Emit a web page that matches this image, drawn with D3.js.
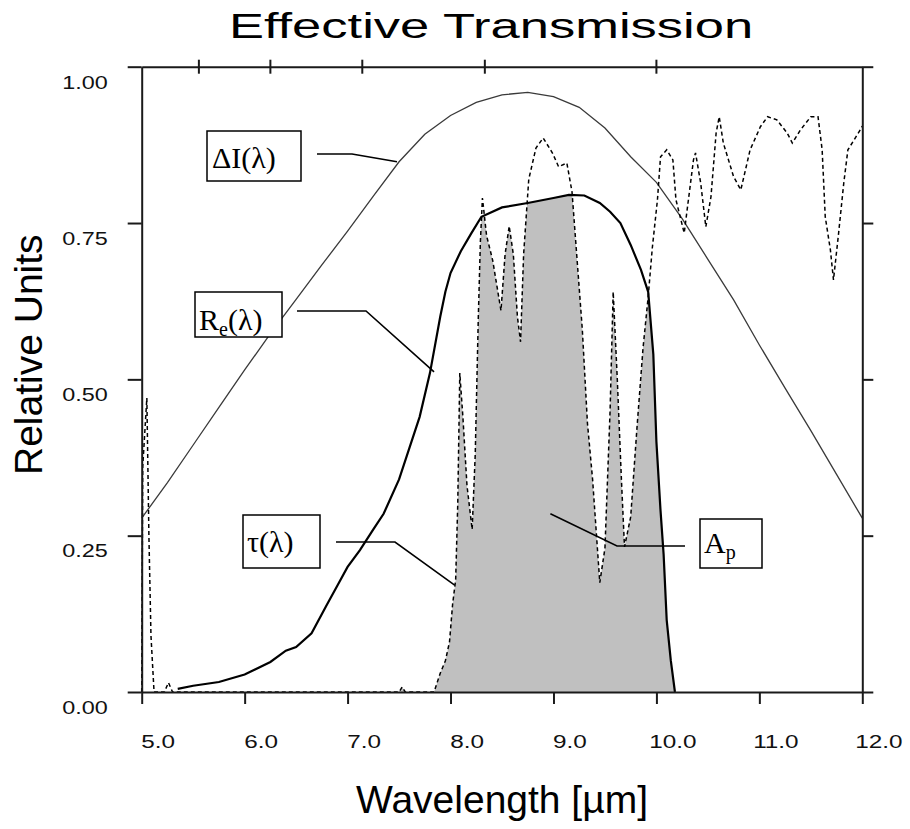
<!DOCTYPE html>
<html>
<head>
<meta charset="utf-8">
<script src="https://cdn.jsdelivr.net/npm/d3@7"></script>
<style>
  html, body { margin: 0; padding: 0; background: #fff; }
  svg { display: block; }
</style>
</head>
<body>
<svg id="chart" width="910" height="829"></svg>
<script>
// Wavelength axis ticks (µm) and relative-unit ticks
const wavelengthTicks = [5, 6, 7, 8, 9, 10, 11, 12];
const unitTicks = [0, 0.25, 0.5, 0.75, 1.0];
// Wavenumber ticks (cm^-1) marked along the top edge
const wavenumberTicks = [1800, 1600, 1400, 1200, 1000];

// ΔI(λ): radiance difference curve
const deltaIWl  = [5.00, 5.25, 5.50, 5.75, 6.00, 6.25, 6.50, 6.75, 7.00, 7.25, 7.50, 7.75, 8.00, 8.25, 8.50, 8.75, 9.00, 9.25, 9.50, 9.75, 10.00, 10.25, 10.50, 10.75, 11.00, 11.25, 11.50, 11.75, 12.00];
const deltaIVal = [0.278, 0.335, 0.395, 0.455, 0.515, 0.573, 0.628, 0.683, 0.737, 0.793, 0.848, 0.892, 0.922, 0.943, 0.955, 0.959, 0.952, 0.935, 0.902, 0.856, 0.815, 0.757, 0.692, 0.627, 0.555, 0.486, 0.418, 0.348, 0.278];

// Re(λ): detector spectral response
const respWl  = [5.35, 5.50, 5.75, 6.00, 6.25, 6.40, 6.50, 6.65, 6.80, 6.90, 7.00, 7.12, 7.25, 7.35, 7.50, 7.60, 7.70, 7.80, 7.90, 7.95, 8.00, 8.10, 8.20, 8.30, 8.50, 8.75, 9.00, 9.15, 9.30, 9.45, 9.55, 9.65, 9.75, 9.85, 9.92, 9.97, 10.00, 10.04, 10.07, 10.10, 10.14, 10.18];
const respVal = [0.005, 0.010, 0.016, 0.028, 0.048, 0.066, 0.072, 0.094, 0.140, 0.170, 0.200, 0.227, 0.260, 0.285, 0.340, 0.390, 0.440, 0.510, 0.600, 0.640, 0.670, 0.705, 0.733, 0.760, 0.775, 0.782, 0.790, 0.795, 0.794, 0.782, 0.768, 0.750, 0.715, 0.675, 0.640, 0.540, 0.400, 0.290, 0.220, 0.115, 0.050, 0.000];

// τ(λ): atmospheric transmission
const tauWl  = [5.00, 5.01, 5.05, 5.07, 5.09, 5.12, 5.22, 5.26, 5.30, 7.50, 7.53, 7.56, 7.84, 7.90, 7.95, 7.99, 8.02, 8.05, 8.07, 8.09, 8.12, 8.16, 8.21, 8.24, 8.27, 8.29, 8.31, 8.35, 8.41, 8.46, 8.49, 8.53, 8.57, 8.61, 8.65, 8.68, 8.71, 8.76, 8.83, 8.90, 8.99, 9.05, 9.13, 9.18, 9.23, 9.28, 9.33, 9.38, 9.45, 9.50, 9.55, 9.58, 9.62, 9.66, 9.69, 9.75, 9.81, 9.87, 9.92, 9.96, 10.01, 10.04, 10.10, 10.16, 10.19, 10.27, 10.36, 10.38, 10.43, 10.48, 10.53, 10.58, 10.61, 10.65, 10.75, 10.82, 10.91, 11.01, 11.08, 11.17, 11.27, 11.32, 11.40, 11.50, 11.57, 11.61, 11.64, 11.69, 11.72, 11.77, 11.82, 11.86, 11.98, 12.00];
const tauVal = [0.00, 0.36, 0.47, 0.25, 0.09, 0.00, 0.00, 0.015, 0.00, 0.00, 0.008, 0.00, 0.00, 0.03, 0.05, 0.08, 0.14, 0.18, 0.30, 0.51, 0.44, 0.33, 0.26, 0.38, 0.60, 0.72, 0.79, 0.73, 0.69, 0.64, 0.61, 0.70, 0.745, 0.70, 0.60, 0.56, 0.70, 0.82, 0.87, 0.886, 0.862, 0.84, 0.846, 0.80, 0.69, 0.58, 0.43, 0.34, 0.175, 0.23, 0.45, 0.64, 0.50, 0.34, 0.232, 0.28, 0.42, 0.55, 0.632, 0.71, 0.787, 0.856, 0.867, 0.851, 0.787, 0.734, 0.851, 0.862, 0.814, 0.744, 0.792, 0.894, 0.92, 0.878, 0.824, 0.803, 0.867, 0.904, 0.92, 0.915, 0.894, 0.878, 0.899, 0.92, 0.92, 0.867, 0.76, 0.707, 0.659, 0.734, 0.814, 0.867, 0.899, 0.905];

const deltaI = deltaIWl.map((w, i) => ({ w, v: deltaIVal[i] }));
const resp   = respWl.map((w, i) => ({ w, v: respVal[i] }));
const tau    = tauWl.map((w, i) => ({ w, v: tauVal[i] }));

const svg = d3.select("#chart");
const plot = { left: 141.7, right: 862.3, top: 66.7, bottom: 692 };

const x = d3.scaleLinear().domain([5, 12]).range([plot.left, plot.right]);
const y = d3.scaleLinear().domain([0, 1]).range([plot.bottom, plot.top]);

const sans = "'Liberation Sans', Arial, sans-serif";
const serif = "'Liberation Serif', 'Times New Roman', serif";

// widen text horizontally, in the manner of the old bitmap fonts
function widen(sel, k) {
  sel.each(function () {
    const w = this.getComputedTextLength();
    this.setAttribute("textLength", w * k);
    this.setAttribute("lengthAdjust", "spacingAndGlyphs");
  });
}

// Shaded band Ap: area under τ, clipped to the area under Re
const areaGen = d3.area().x(d => x(d.w)).y0(y(0)).y1(d => y(d.v));
svg.append("clipPath").attr("id", "resp-clip")
  .append("path").attr("d", areaGen(resp));
svg.append("path")
  .attr("d", areaGen(tau))
  .attr("fill", "#c0c0c0")
  .attr("clip-path", "url(#resp-clip)");

const lineGen = d3.line().x(d => x(d.w)).y(d => y(d.v));

svg.append("path").attr("d", lineGen(deltaI))
  .attr("fill", "none").attr("stroke", "#3a3a3a").attr("stroke-width", 1.3);

svg.append("path").attr("d", lineGen(resp))
  .attr("fill", "none").attr("stroke", "#000").attr("stroke-width", 2.2);

svg.append("path").attr("d", lineGen(tau))
  .attr("fill", "none").attr("stroke", "#000").attr("stroke-width", 1.5)
  .attr("stroke-dasharray", "4,3");

// Axes
const axisColor = "#1a1a1a";
const gB = svg.append("g").attr("transform", `translate(0,${plot.bottom})`)
  .call(d3.axisBottom(x).tickValues(wavelengthTicks).tickSize(12).tickSizeOuter(0).tickFormat(d3.format(".1f")));
const gL = svg.append("g").attr("transform", `translate(${plot.left},0)`)
  .call(d3.axisLeft(y).tickValues(unitTicks).tickSize(14).tickSizeOuter(0).tickFormat(d3.format(".2f")));
const gR = svg.append("g").attr("transform", `translate(${plot.right},0)`)
  .call(d3.axisRight(y).tickValues(unitTicks).tickSize(11).tickSizeOuter(0).tickFormat(""));
const gT = svg.append("g").attr("transform", `translate(0,${plot.top})`)
  .call(d3.axisTop(x).tickValues([]).tickSizeOuter(0));

svg.selectAll(".domain, .tick line").attr("stroke", axisColor).attr("stroke-width", 2);

// top ticks at wavenumber positions, crossing the frame
gT.selectAll(".wn").data(wavenumberTicks).join("line")
  .attr("class", "wn")
  .attr("x1", d => x(10000 / d)).attr("x2", d => x(10000 / d))
  .attr("y1", -7).attr("y2", 7)
  .attr("stroke", axisColor).attr("stroke-width", 2);

gB.selectAll(".tick text")
  .attr("font-family", sans).attr("font-size", 18).attr("fill", "#111")
  .attr("dx", 16).attr("y", 0).attr("dy", 0)
  .attr("transform", "translate(0,56)")
  .call(widen, 1.35);

gL.selectAll(".tick text")
  .attr("font-family", sans).attr("font-size", 18).attr("fill", "#111")
  .attr("x", -34).attr("dy", "0.35em")
  .attr("transform", "translate(0,15)")
  .call(widen, 1.3);

// Titles
const title = svg.append("text")
  .attr("x", 491).attr("y", 38)
  .attr("text-anchor", "middle")
  .attr("font-family", sans).attr("font-size", 35).attr("fill", "#000")
  .text("Effective Transmission");
widen(title, 1.5);

svg.append("text")
  .attr("x", 648).attr("y", 813)
  .attr("text-anchor", "end")
  .attr("font-family", sans).attr("font-size", 39).attr("fill", "#000")
  .text("Wavelength [µm]");

svg.append("text")
  .attr("transform", "translate(42,475) rotate(-90)")
  .attr("text-anchor", "start")
  .attr("font-family", sans).attr("font-size", 39).attr("fill", "#000")
  .text("Relative Units");

// Annotation boxes with leader lines
const notes = [
  { box: [207, 131, 94, 50], tx: 212, ty: 168, main: "ΔI(λ)", sub: null, rest: "",
    lead: [[317, 154], [352, 154]], to: [7.48, 0.848] },
  { box: [195, 292, 87, 45], tx: 199, ty: 330, main: "R", sub: "e", rest: "(λ)",
    lead: [[297, 311], [366, 311]], to: [7.84, 0.512] },
  { box: [243, 515, 77, 53], tx: 247, ty: 552, main: "τ(λ)", sub: null, rest: "",
    lead: [[336, 542], [395, 542]], to: [8.04, 0.171] },
  { box: [700, 519, 62, 49], tx: 704, ty: 553, main: "A", sub: "p", rest: "",
    lead: [[685, 546], [617, 546]], to: [8.97, 0.285] }
];

const ng = svg.append("g");
notes.forEach(n => {
  const pts = n.lead.concat([[x(n.to[0]), y(n.to[1])]]);
  ng.append("path").attr("d", d3.line()(pts))
    .attr("fill", "none").attr("stroke", "#000").attr("stroke-width", 1.6);
  ng.append("rect")
    .attr("x", n.box[0]).attr("y", n.box[1]).attr("width", n.box[2]).attr("height", n.box[3])
    .attr("fill", "#fff").attr("stroke", "#000").attr("stroke-width", 1.5);
  const t = ng.append("text")
    .attr("x", n.tx).attr("y", n.ty)
    .attr("font-family", serif).attr("font-size", 30).attr("fill", "#000");
  t.append("tspan").text(n.main);
  if (n.sub) {
    t.append("tspan").attr("font-size", 20).attr("dy", 6).text(n.sub);
    if (n.rest) t.append("tspan").attr("font-size", 30).attr("dy", -6).text(n.rest);
  }
});
</script>
</body>
</html>
